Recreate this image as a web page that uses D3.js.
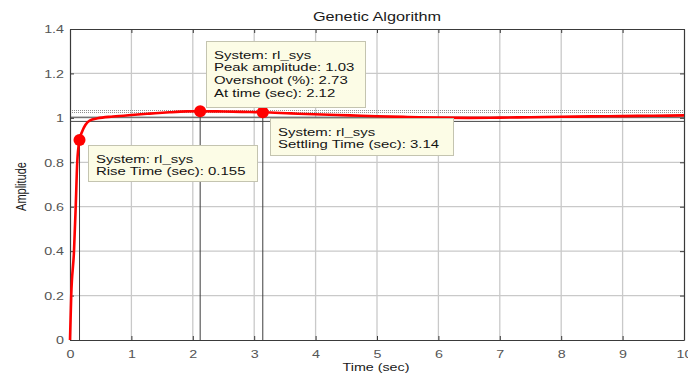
<!DOCTYPE html>
<html>
<head>
<meta charset="utf-8">
<script src="https://cdn.jsdelivr.net/npm/d3@7"></script>
<style>
  body { margin: 0; background: #fff; }
  svg { display: block; }
  text { font-family: "Liberation Sans", Arial, Helvetica, sans-serif; }
</style>
</head>
<body>
<svg id="chart" width="688" height="376"></svg>
<script>
// Step response of rl_sys (controller tuned by genetic algorithm)
const timeSec   = [0, 0.02, 0.065, 0.093, 0.118, 0.155, 0.2, 0.25, 0.32, 0.45, 0.7, 1.0, 1.3, 1.62, 1.9, 2.12, 2.4, 2.8, 3.14, 3.6, 4.1, 4.56, 5.0, 5.5, 6.0, 6.5, 7.0, 7.5, 8.0, 8.5, 9.0, 9.5, 10];
const amplitude = [0, 0.2, 0.4, 0.6, 0.8, 0.9, 0.94, 0.968, 0.988, 0.998, 1.006, 1.013, 1.019, 1.025, 1.029, 1.03, 1.029, 1.027, 1.025, 1.02, 1.015, 1.011, 1.007, 1.004, 1.001, 1.0, 1.001, 1.003, 1.005, 1.0065, 1.008, 1.0095, 1.011];

const xTicks = [0, 1, 2, 3, 4, 5, 6, 7, 8, 9, 10];
const yTicks = [0, 0.2, 0.4, 0.6, 0.8, 1, 1.2, 1.4];
const yTickLabels = ["0", "0.2", "0.4", "0.6", "0.8", "1", "1.2", "1.4"];

// Step-response characteristics
const riseTime = 0.155;
const peakTime = 2.12;
const peakAmplitude = 1.03;
const overshootPct = 2.73;
const settlingTime = 3.14;
const systemName = "rl_sys";

// Reference levels: light dotted bounds and dark steady-state lines
const boundLevels = [1.033, 1.024];
const steadyLevels = [1.003, 0.984];

const titleText = "Genetic Algorithm";
const xLabel = "Time (sec)";
const yLabel = "Amplitude";

// ---------------------------------------------------------------
const svg = d3.select("#chart");
const L = 70, R = 684, T = 29, B = 340;
const SX = 1.3; // horizontal text stretch

const x = d3.scaleLinear().domain([0, 10]).range([L, R]);
const y = d3.scaleLinear().domain([0, 1.4]).range([B, T]);

// grid
const grid = svg.append("g");
grid.selectAll("line.gx").data(xTicks.slice(1, -1)).join("line")
  .attr("x1", d => x(d)).attr("x2", d => x(d)).attr("y1", T).attr("y2", B)
  .attr("stroke", "#c9c9c9").attr("stroke-width", 1.3);
grid.selectAll("line.gy").data(yTicks.slice(1, -1)).join("line")
  .attr("x1", L).attr("x2", R).attr("y1", d => y(d)).attr("y2", d => y(d))
  .attr("stroke", "#c9c9c9").attr("stroke-width", 1.3);

// reference levels
svg.append("g").selectAll("line").data(boundLevels).join("line")
  .attr("x1", L).attr("x2", R).attr("y1", d => y(d)).attr("y2", d => y(d))
  .attr("stroke", "#8c8c8c").attr("stroke-width", 1).attr("stroke-dasharray", "1,1");
svg.append("g").selectAll("line").data(steadyLevels).join("line")
  .attr("x1", L).attr("x2", R).attr("y1", d => y(d)).attr("y2", d => y(d))
  .attr("stroke", "#4a4a4a").attr("stroke-width", 1);

// marker points on the curve
const ampAt = t => amplitude[timeSec.indexOf(t)];
const markers = [
  { t: riseTime, a: ampAt(riseTime) },
  { t: peakTime, a: peakAmplitude },
  { t: settlingTime, a: ampAt(settlingTime) }
];

// vertical drop lines from the markers
svg.append("g").selectAll("line").data(markers).join("line")
  .attr("x1", d => x(d.t)).attr("x2", d => x(d.t))
  .attr("y1", d => y(d.a)).attr("y2", B)
  .attr("stroke", "#3c3c3c").attr("stroke-width", 1);

// axes with inward ticks on all four sides
const fmtY = (d, i) => yTickLabels[i];
const axB = svg.append("g").attr("transform", `translate(0,${B})`)
  .call(d3.axisBottom(x).tickValues(xTicks).tickSize(-4).tickPadding(8).tickSizeOuter(0));
const axT = svg.append("g").attr("transform", `translate(0,${T})`)
  .call(d3.axisTop(x).tickValues(xTicks).tickSize(-4).tickFormat("").tickSizeOuter(0));
const axL = svg.append("g").attr("transform", `translate(${L},0)`)
  .call(d3.axisLeft(y).tickValues(yTicks).tickSize(-4).tickFormat(fmtY).tickSizeOuter(0));
const axR = svg.append("g").attr("transform", `translate(${R},0)`)
  .call(d3.axisRight(y).tickValues(yTicks).tickSize(-4).tickFormat("").tickSizeOuter(0));

[axB, axT, axL, axR].forEach(g => {
  g.select(".domain").attr("stroke", "#3a3a3a").attr("stroke-width", 1.2);
  g.selectAll(".tick line").attr("stroke", "#3a3a3a");
  g.selectAll(".tick text").attr("fill", "#555").style("font-size", "11px")
    .style("font-family", "'Liberation Sans', Arial, sans-serif");
});
axB.selectAll(".tick text").attr("y", 10).attr("dy", "0.71em")
  .attr("transform", `scale(${SX},1)`);
axL.selectAll(".tick text").attr("x", -6 / SX).attr("dy", "0.35em")
  .attr("transform", `scale(${SX},1)`);

// response curve
const pts = timeSec.map((t, i) => [t, amplitude[i]]);
svg.append("path").datum(pts)
  .attr("fill", "none").attr("stroke", "#ff0000").attr("stroke-width", 2.6)
  .attr("stroke-linejoin", "round")
  .attr("d", d3.line().x(d => x(d[0])).y(d => y(d[1])).curve(d3.curveMonotoneX));

svg.append("g").selectAll("circle").data(markers).join("circle")
  .attr("cx", d => x(d.t)).attr("cy", d => y(d.a)).attr("r", 6)
  .attr("fill", "#ff0000");

// stretched text helper
function label(g, str, px, py, size, fill, anchor) {
  return g.append("text")
    .attr("transform", `translate(${px},${py}) scale(${SX},1)`)
    .attr("text-anchor", anchor || "start")
    .style("font-size", size + "px").attr("fill", fill).text(str);
}

// data-tip boxes
const tips = [
  { box: [206, 41, 159, 66], lines: [
      `System: ${systemName}`,
      `Peak amplitude: ${peakAmplitude.toFixed(2)}`,
      `Overshoot (%): ${overshootPct.toFixed(2)}`,
      `At time (sec): ${peakTime.toFixed(2)}`] },
  { box: [270, 118, 183, 37], lines: [
      `System: ${systemName}`,
      `Settling Time (sec): ${settlingTime.toFixed(2)}`] },
  { box: [88, 145, 169, 36], lines: [
      `System: ${systemName}`,
      `Rise Time (sec): ${riseTime.toFixed(3)}`] }
];
tips.forEach(tp => {
  const g = svg.append("g");
  const [bx, by, bw, bh] = tp.box;
  g.append("rect").attr("x", bx + 0.5).attr("y", by + 0.5).attr("width", bw).attr("height", bh)
    .attr("fill", "#fcfce6").attr("stroke", "#c4c4b0").attr("stroke-width", 1);
  tp.lines.forEach((s, i) => label(g, s, bx + 8, by + 17.5 + i * 12.8, 11.5, "#141414"));
});

// titles
label(svg, titleText, (L + R) / 2, 21, 12.5, "#1a1a1a", "middle");
label(svg, xLabel, (L + R) / 2 - 1, 371, 11, "#1a1a1a", "middle");
svg.append("text")
  .attr("transform", `translate(26,${(T + B) / 2 + 2}) rotate(-90) scale(1,${SX})`)
  .attr("text-anchor", "middle").style("font-size", "11px").attr("fill", "#1a1a1a")
  .text(yLabel);
</script>
</body>
</html>
